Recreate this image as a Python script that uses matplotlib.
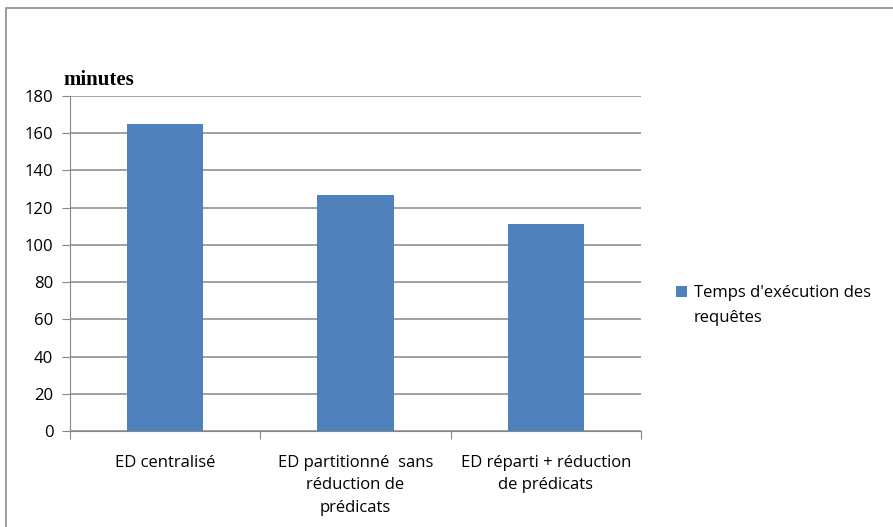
import matplotlib
matplotlib.use("Agg")
import matplotlib.pyplot as plt
from matplotlib.patches import Rectangle

# === 資料 === #
categories = ["ED centralisé",
              "ED partitionné  sans\nréduction de\nprédicats",
              "ED réparti + réduction\nde prédicats"]
temps = [165, 127, 111]
serie_label = ["Temps d'exécution des", "requêtes"]
y_ticks = [0, 20, 40, 60, 80, 100, 120, 140, 160, 180]

plt.rcParams['font.family'] = ['Open Sans', 'DejaVu Sans']
fs = 12

fig = plt.figure(figsize=(8.93, 5.27), dpi=100)
fig.patch.set_facecolor("white")

# cadre du graphique
fig.add_artist(Rectangle((6 / 893, -0.01), 1.0, 1 - 8 / 527 + 0.01,
                         transform=fig.transFigure, fill=False,
                         edgecolor="#8c8c8c", linewidth=1.2))

ax = fig.add_axes([70 / 893, 96 / 527, 571 / 893, 335 / 527])

x = list(range(len(categories)))
bars = ax.bar(x, temps, width=0.4, color="#4F81BD", zorder=3)

ax.set_xlim(-0.5, len(categories) - 0.5)
ax.set_ylim(0, 180)
ax.set_yticks(y_ticks)
ax.yaxis.grid(True, color="#868686", linewidth=1.1, zorder=0)

# ticks de catégories aux frontières
ax.set_xticks([i - 0.5 for i in range(len(categories) + 1)])
ax.set_xticklabels([])
ax.set_xticks(x, minor=True)
ax.set_xticklabels(categories, minor=True, fontsize=fs, linespacing=1.55,
                   va="top")
ax.tick_params(axis="x", which="minor", length=0, pad=17)
ax.tick_params(axis="x", which="major", length=6, color="#868686")
ax.tick_params(axis="y", length=6, color="#868686", labelsize=fs, pad=6)

for s in ["top", "right"]:
    ax.spines[s].set_visible(False)
ax.spines["left"].set_color("#868686")
ax.spines["bottom"].set_color("#868686")

fig.text(63 / 893, 1 - 80 / 527, "minutes", family="Liberation Serif",
         fontweight="bold", fontsize=15, va="center", ha="left")

# légende : carré aligné sur la première ligne
handles = [bars.patches[0], Rectangle((0, 0), 1, 1, fill=False, linewidth=0)]
leg = ax.legend(handles, serie_label, loc="upper left",
                bbox_to_anchor=(668 / 893, 1 - 277 / 527),
                bbox_transform=fig.transFigure, frameon=False, borderpad=0,
                handlelength=0.66, handleheight=0.66, handletextpad=0.4,
                labelspacing=0.55, fontsize=fs)

plt.savefig("out.png", dpi=100)
plt.close()
